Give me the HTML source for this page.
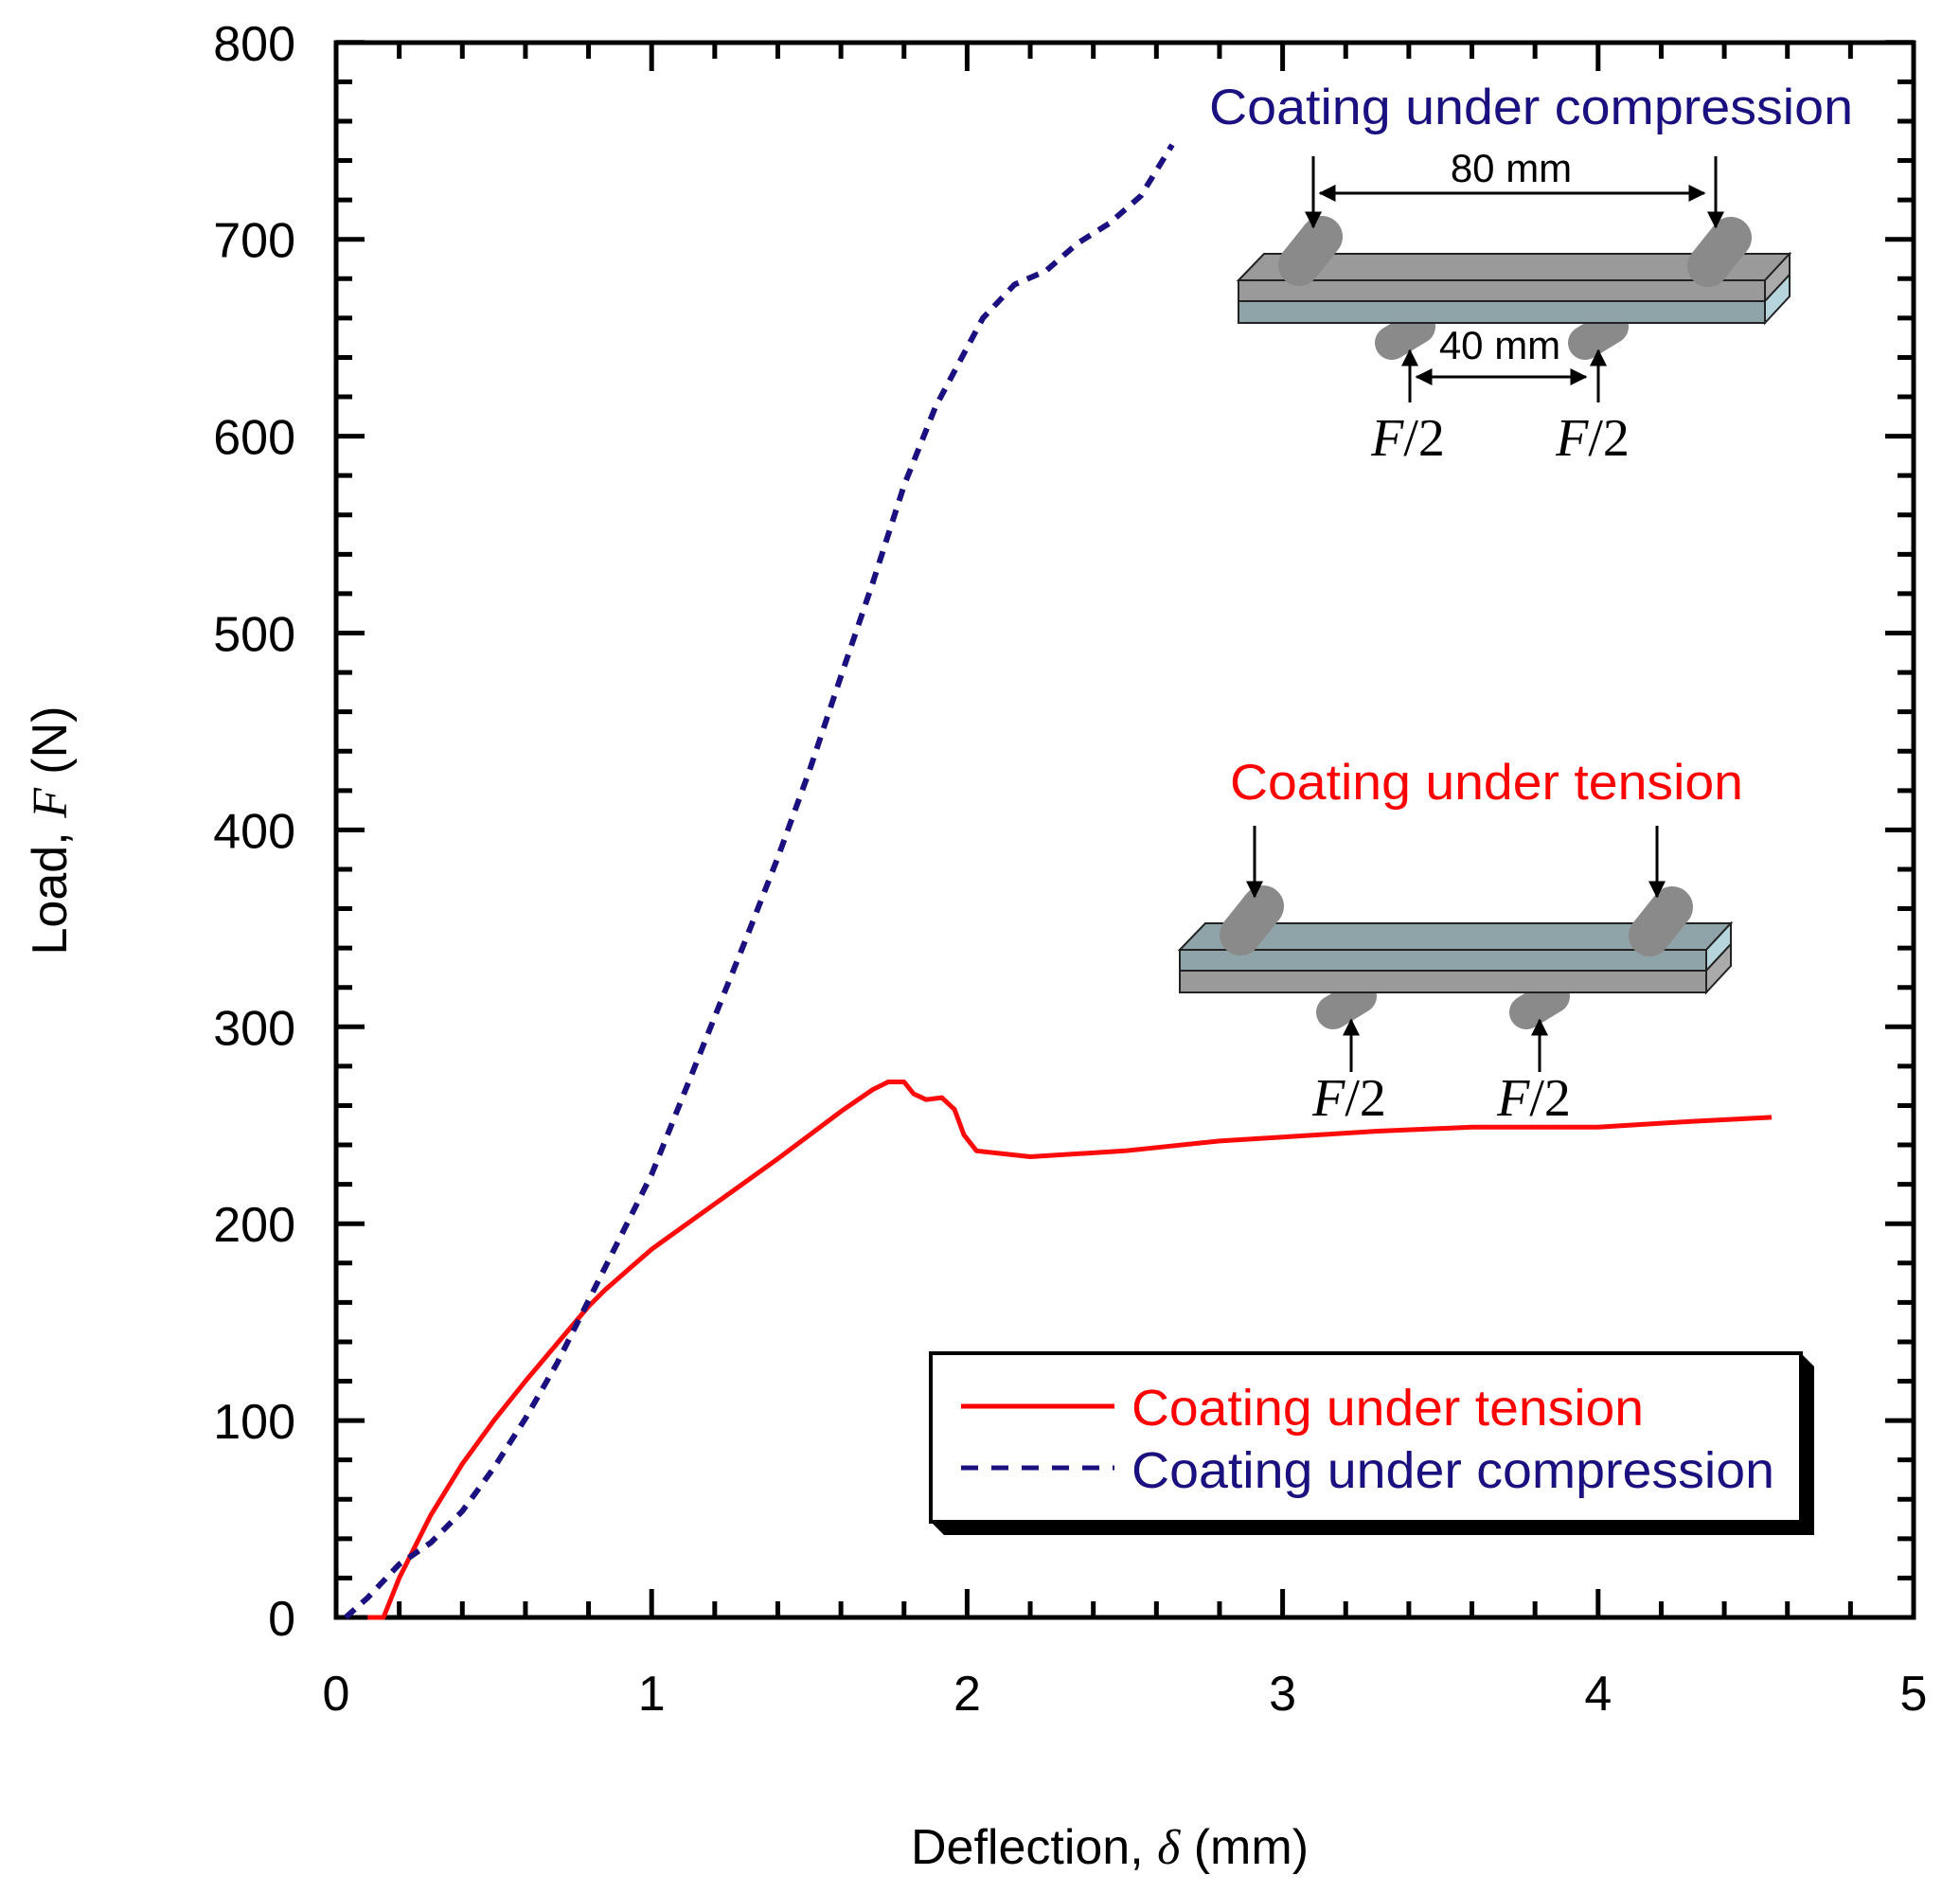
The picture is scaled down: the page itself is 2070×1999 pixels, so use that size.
<!DOCTYPE html>
<html><head><meta charset="utf-8"><style>
html,body{margin:0;padding:0;background:#fff;}
svg{display:block;}
</style></head><body>
<svg id="s" width="2070" height="1999" viewBox="0 0 2070 1999" xmlns="http://www.w3.org/2000/svg" font-family="Liberation Sans, Arial, sans-serif">
<defs>
<marker id="ah" markerWidth="6" markerHeight="6" refX="5.5" refY="3" orient="auto" markerUnits="strokeWidth"><path d="M0,0 L6,3 L0,6 Z" fill="#000"/></marker>
</defs>
<g id="ticks" stroke="#000" stroke-width="5"></g>
<rect x="355" y="45" width="1666" height="1663" fill="none" stroke="#000" stroke-width="5"/>
<g id="labels" font-size="52" fill="#000"></g>
<text x="1172" y="1968" font-size="52" text-anchor="middle">Deflection, <tspan style="font-family:'Liberation Serif',serif;font-style:italic">δ</tspan> (mm)</text>
<text transform="translate(70,877) rotate(-90)" font-size="52" text-anchor="middle">Load, <tspan style="font-family:'Liberation Serif',serif;font-style:italic">F</tspan> (N)</text>

<!-- top inset (compression) -->
<g>
  <line x1="1470" y1="362" x2="1498" y2="345" stroke="#8a8a8a" stroke-width="36" stroke-linecap="round"/>
  <line x1="1674" y1="362" x2="1702" y2="345" stroke="#8a8a8a" stroke-width="36" stroke-linecap="round"/>
  <polygon points="1308,296 1335,268 1890,268 1864,296" fill="#9a9a9a" stroke="#222" stroke-width="2"/>
  <rect x="1308" y="296" width="556" height="22" fill="#9a9a9a" stroke="#222" stroke-width="2"/>
  <rect x="1308" y="318" width="556" height="23" fill="#8fa4a8" stroke="#222" stroke-width="2"/>
  <polygon points="1864,296 1890,268 1890,290 1864,318" fill="#aaa" stroke="#222" stroke-width="2"/>
  <polygon points="1864,318 1890,290 1890,313 1864,341" fill="#b5d4dc" stroke="#222" stroke-width="2"/>
  <line x1="1372" y1="280" x2="1396" y2="250" stroke="#8a8a8a" stroke-width="44" stroke-linecap="round"/>
  <line x1="1804" y1="281" x2="1828" y2="251" stroke="#8a8a8a" stroke-width="44" stroke-linecap="round"/>
  <line x1="1387" y1="165" x2="1387" y2="240" stroke="#000" stroke-width="3" marker-end="url(#ah)"/>
  <line x1="1812" y1="165" x2="1812" y2="240" stroke="#000" stroke-width="3" marker-end="url(#ah)"/>
  <line x1="1489" y1="425" x2="1489" y2="370" stroke="#000" stroke-width="3" marker-end="url(#ah)"/>
  <line x1="1688" y1="425" x2="1688" y2="370" stroke="#000" stroke-width="3" marker-end="url(#ah)"/>
  <text x="1487" y="481" font-size="56" style="font-family:'Liberation Serif',serif" text-anchor="middle"><tspan font-style="italic">F</tspan>/2</text>
  <text x="1682" y="481" font-size="56" style="font-family:'Liberation Serif',serif" text-anchor="middle"><tspan font-style="italic">F</tspan>/2</text>
</g>
<line x1="1800" y1="204" x2="1394" y2="204" stroke="#000" stroke-width="3" marker-end="url(#ah)"/>
<line x1="1400" y1="204" x2="1800" y2="204" stroke="#000" stroke-width="3" marker-end="url(#ah)"/>
<line x1="1675" y1="398" x2="1496" y2="398" stroke="#000" stroke-width="3" marker-end="url(#ah)"/>
<line x1="1500" y1="398" x2="1675" y2="398" stroke="#000" stroke-width="3" marker-end="url(#ah)"/>
<text x="1596" y="192" font-size="42" text-anchor="middle">80 mm</text>
<text x="1584" y="379" font-size="42" text-anchor="middle">40 mm</text>
<text x="1277" y="131" font-size="53" fill="#1a1080" textLength="680" lengthAdjust="spacingAndGlyphs">Coating under compression</text>

<!-- bottom inset (tension) -->
<g transform="translate(-62,707)">
  <line x1="1470" y1="362" x2="1498" y2="345" stroke="#8a8a8a" stroke-width="36" stroke-linecap="round"/>
  <line x1="1674" y1="362" x2="1702" y2="345" stroke="#8a8a8a" stroke-width="36" stroke-linecap="round"/>
  <polygon points="1308,296 1335,268 1890,268 1864,296" fill="#8fa4a8" stroke="#222" stroke-width="2"/>
  <rect x="1308" y="296" width="556" height="22" fill="#8fa4a8" stroke="#222" stroke-width="2"/>
  <rect x="1308" y="318" width="556" height="23" fill="#9a9a9a" stroke="#222" stroke-width="2"/>
  <polygon points="1864,296 1890,268 1890,290 1864,318" fill="#b5d4dc" stroke="#222" stroke-width="2"/>
  <polygon points="1864,318 1890,290 1890,313 1864,341" fill="#aaa" stroke="#222" stroke-width="2"/>
  <line x1="1372" y1="280" x2="1396" y2="250" stroke="#8a8a8a" stroke-width="44" stroke-linecap="round"/>
  <line x1="1804" y1="281" x2="1828" y2="251" stroke="#8a8a8a" stroke-width="44" stroke-linecap="round"/>
  <line x1="1387" y1="165" x2="1387" y2="240" stroke="#000" stroke-width="3" marker-end="url(#ah)"/>
  <line x1="1812" y1="165" x2="1812" y2="240" stroke="#000" stroke-width="3" marker-end="url(#ah)"/>
  <line x1="1489" y1="425" x2="1489" y2="370" stroke="#000" stroke-width="3" marker-end="url(#ah)"/>
  <line x1="1688" y1="425" x2="1688" y2="370" stroke="#000" stroke-width="3" marker-end="url(#ah)"/>
  <text x="1487" y="471" font-size="56" style="font-family:'Liberation Serif',serif" text-anchor="middle"><tspan font-style="italic">F</tspan>/2</text>
  <text x="1682" y="471" font-size="56" style="font-family:'Liberation Serif',serif" text-anchor="middle"><tspan font-style="italic">F</tspan>/2</text>
</g>
<text x="1299" y="844" font-size="53" fill="#ff0000" textLength="542" lengthAdjust="spacingAndGlyphs">Coating under tension</text>

<path id="red" fill="none" stroke="#ff0a0a" stroke-width="5" stroke-linejoin="round"/>
<path id="blue" fill="none" stroke="#1a1080" stroke-width="6" stroke-dasharray="13,10"/>

<!-- legend -->
<polygon points="983,1607 997,1621 1916,1621 1916,1443 1902,1429 1902,1607" fill="#000"/>
<rect x="983" y="1429" width="919" height="178" fill="#fff" stroke="#000" stroke-width="4"/>
<line x1="1015" y1="1485" x2="1177" y2="1485" stroke="#ff0000" stroke-width="5"/>
<text x="1195" y="1505" font-size="54" fill="#ff0000" textLength="541" lengthAdjust="spacingAndGlyphs">Coating under tension</text>
<line x1="1015" y1="1550" x2="1177" y2="1550" stroke="#1a1080" stroke-width="5" stroke-dasharray="18,14"/>
<text x="1195" y="1571" font-size="54" fill="#1a1080" textLength="679" lengthAdjust="spacingAndGlyphs">Coating under compression</text>
</svg>
<script>
var X=function(v){return 355+v*333.2;}, Y=function(v){return 1708-v*2.079;};
var t=document.getElementById('ticks'), L=document.getElementById('labels'), ns='http://www.w3.org/2000/svg';
function ln(x1,y1,x2,y2){var e=document.createElementNS(ns,'line');e.setAttribute('x1',x1);e.setAttribute('y1',y1);e.setAttribute('x2',x2);e.setAttribute('y2',y2);t.appendChild(e);}
function tx(x,y,s,a){var e=document.createElementNS(ns,'text');e.setAttribute('x',x);e.setAttribute('y',y);e.setAttribute('text-anchor',a);e.textContent=s;L.appendChild(e);}
for(var i=0;i<=25;i++){var x=X(i*0.2),len=(i%5==0)?30:17;ln(x,1708,x,1708-len);ln(x,45,x,45+len);}
for(var i=0;i<=40;i++){var y=Y(i*20),len=(i%5==0)?30:17;ln(355,y,355+len,y);ln(2021,y,2021-len,y);}
for(var i=0;i<=5;i++)tx(X(i),1806,''+i,'middle');
for(var i=0;i<=8;i++)tx(312,Y(i*100)+19,''+(i*100),'end');
var red=[[0.1,0],[0.15,0],[0.2,20],[0.3,52],[0.4,78],[0.5,100],[0.6,120],[0.7,139],[0.8,158],[0.85,166],[0.9,173],[0.95,180],[1.0,187],[1.2,210],[1.4,233],[1.6,257],[1.7,268],[1.75,272],[1.8,272],[1.83,266],[1.87,263],[1.92,264],[1.96,258],[1.99,245],[2.03,237],[2.2,234],[2.5,237],[2.8,242],[3.0,244],[3.3,247],[3.6,249],[4.0,249],[4.3,252],[4.55,254]];
var blue=[[0.03,0],[0.1,10],[0.2,27],[0.3,38],[0.4,54],[0.5,76],[0.6,101],[0.7,129],[0.8,161],[0.9,193],[1.0,225],[1.1,265],[1.2,305],[1.3,345],[1.4,386],[1.5,430],[1.6,478],[1.7,525],[1.8,575],[1.9,615],[2.0,645],[2.05,660],[2.15,677],[2.25,684],[2.35,698],[2.45,708],[2.55,722],[2.65,748]];
function d(a){return a.map(function(p,i){return (i?'L':'M')+X(p[0]).toFixed(1)+','+Y(p[1]).toFixed(1);}).join('');}
document.getElementById('red').setAttribute('d',d(red));
document.getElementById('blue').setAttribute('d',d(blue));
</script>
</body></html>
